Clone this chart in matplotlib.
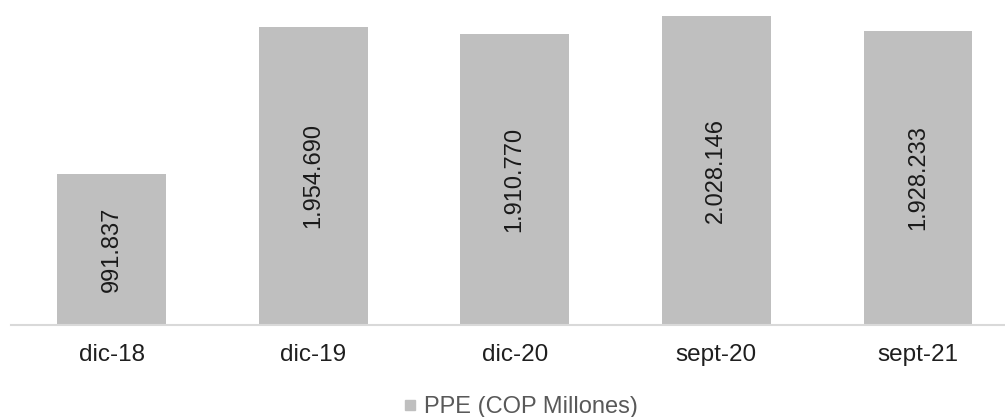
import matplotlib
matplotlib.use("Agg")
import matplotlib.pyplot as plt
from matplotlib.lines import Line2D

categories = ["dic-18", "dic-19", "dic-20", "sept-20", "sept-21"]
values = [991837, 1954690, 1910770, 2028146, 1928233]
series_name = "PPE (COP Millones)"

plt.rcParams["font.family"] = ["Liberation Sans", "DejaVu Sans"]

W, H = 1005, 417
fig = plt.figure(figsize=(W / 100, H / 100), dpi=100)
# axes spans the full category band; the right edge runs past the canvas
left_px, right_px, base_px, top_px = 10.7, 1018.8, 325, 0
ax = fig.add_axes([left_px / W, (H - base_px) / H,
                   (right_px - left_px) / W, (base_px - top_px) / H])

bar_color = "#bfbfbf"
x = list(range(len(categories)))
bars = ax.bar(x, values, width=0.54, color=bar_color, zorder=2)

ax.set_xlim(-0.5, len(categories) - 0.5)
ax.set_ylim(0, 2131000)

for xi, v in zip(x, values):
    label = f"{v:,}".replace(",", ".")
    ax.text(xi, v / 2, label, rotation=90, ha="center", va="center",
            fontsize=17, color="#1a1a1a", zorder=3)

for s in ["top", "right", "left"]:
    ax.spines[s].set_visible(False)
ax.spines["bottom"].set_color("#d9d9d9")
ax.spines["bottom"].set_linewidth(1.5)
ax.set_yticks([])
ax.set_xticks(x)
ax.set_xticklabels(categories, fontsize=17.5, color="#1f1f1f")
ax.tick_params(axis="x", length=0, pad=14)

handle = Line2D([], [], marker="s", linestyle="none", markersize=6.5,
                markerfacecolor=bar_color, markeredgecolor=bar_color)
fig.legend([handle], [series_name], loc="center",
           bbox_to_anchor=(520 / W, 1 - 407 / H), frameon=False,
           fontsize=17, labelcolor="#595959", handlelength=0.6,
           handletextpad=0.3, borderaxespad=0)

fig.savefig("out.png", dpi=100)
